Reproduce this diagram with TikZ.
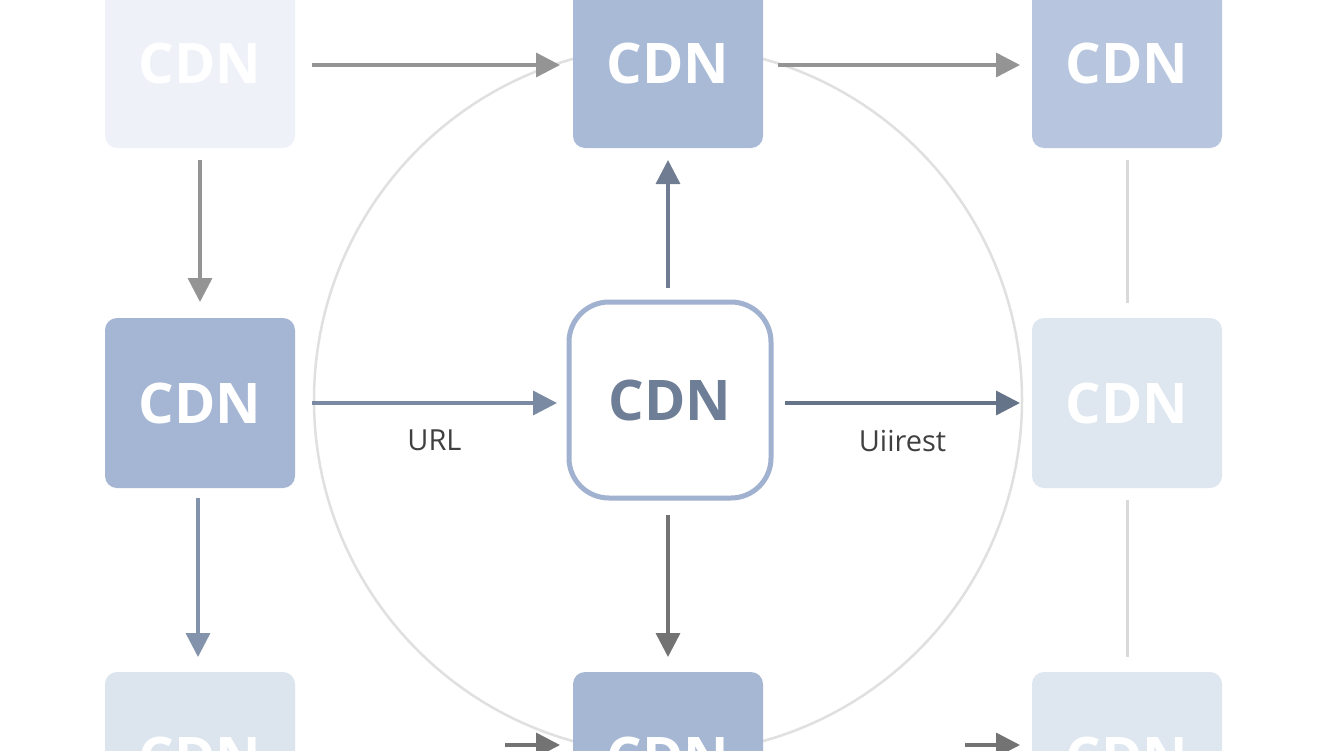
\documentclass[tikz,border=0pt]{standalone}
\usepackage{fontspec}
\setmainfont{Open Sans}
\usetikzlibrary{arrows.meta}
\definecolor{ctl}{RGB}{238,242,248}
\definecolor{ctc}{RGB}{169,186,214}
\definecolor{ctr}{RGB}{183,198,222}
\definecolor{cml}{RGB}{164,182,212}
\definecolor{cmr}{RGB}{222,230,240}
\definecolor{cbl}{RGB}{220,229,238}
\definecolor{cbc}{RGB}{166,183,212}
\definecolor{cbord}{RGB}{160,178,207}
\definecolor{ctext}{RGB}{110,126,150}
\definecolor{a1}{RGB}{122,138,163}
\definecolor{a2}{RGB}{102,116,138}
\definecolor{a3}{RGB}{112,124,145}
\definecolor{a4}{RGB}{131,147,171}
\begin{document}
\begin{tikzpicture}[x=1pt,y=-1pt,
 box/.style={rounded corners=12pt,minimum width=190pt,minimum height=170pt,inner sep=0pt,text=white,font=\fontsize{56}{60}\selectfont\bfseries},
 arr/.style={line width=3.5pt,-{Triangle[length=24pt,width=24pt]}},
 lbl/.style={font=\fontsize{29}{32}\selectfont,text=black!75}]
\useasboundingbox (0,0) rectangle (1344,750);
\fill[white] (0,0) rectangle (1344,750);
\draw[black!12,line width=2.5pt] (668,400) circle (354);
\node[box,fill=ctl] (tl) at (200,63) {CDN};
\node[box,fill=ctc] (tc) at (668,63) {CDN};
\node[box,fill=ctr] (tr) at (1127,63) {CDN};
\node[box,fill=cml] (ml) at (200,403) {CDN};
\node[box,fill=cmr] (mr) at (1127,403) {CDN};
\node[box,fill=cbl] (bl) at (200,757) {CDN};
\node[box,fill=cbc] (bc) at (668,757) {CDN};
\node[box,fill=cmr] (br) at (1127,757) {CDN};
\node[box,fill=white,draw=cbord,line width=5pt,minimum width=202pt,minimum height=196pt,rounded corners=40pt,text=ctext] (c) at (670,400) {CDN};
\coordinate (p1) at (312,65); \coordinate (p2) at (560,65);
\coordinate (p3) at (778,65); \coordinate (p4) at (1020,65);
\coordinate (p5) at (200,160); \coordinate (p6) at (200,302);
\coordinate (p7) at (312,403); \coordinate (p8) at (557,403);
\coordinate (p9) at (785,403); \coordinate (p10) at (1020,403);
\coordinate (p11) at (668,288); \coordinate (p12) at (668,160);
\coordinate (p13) at (668,515); \coordinate (p14) at (668,657);
\coordinate (p15) at (198,498); \coordinate (p16) at (198,657);
\coordinate (p17) at (1127,160); \coordinate (p18) at (1127,303);
\coordinate (p19) at (1127,500); \coordinate (p20) at (1127,657);
\coordinate (p21) at (505,745); \coordinate (p22) at (560,745);
\coordinate (p23) at (965,745); \coordinate (p24) at (1020,745);
\draw[arr,black!42] (p1) -- (p2);
\draw[arr,black!42] (p3) -- (p4);
\draw[arr,black!42] (p5) -- (p6);
\draw[arr,a1] (p7) -- (p8) node[lbl,midway,below=22pt] {URL};
\draw[arr,a2] (p9) -- (p10) node[lbl,midway,below=22pt] {Uiirest};
\draw[arr,a3] (p11) -- (p12);
\draw[arr,black!55] (p13) -- (p14);
\draw[arr,a4] (p15) -- (p16);
\draw[black!15,line width=3pt] (p17) -- (p18);
\draw[black!15,line width=3pt] (p19) -- (p20);
\draw[arr,black!55] (p21) -- (p22);
\draw[arr,black!55] (p23) -- (p24);
\end{tikzpicture}
\end{document}
